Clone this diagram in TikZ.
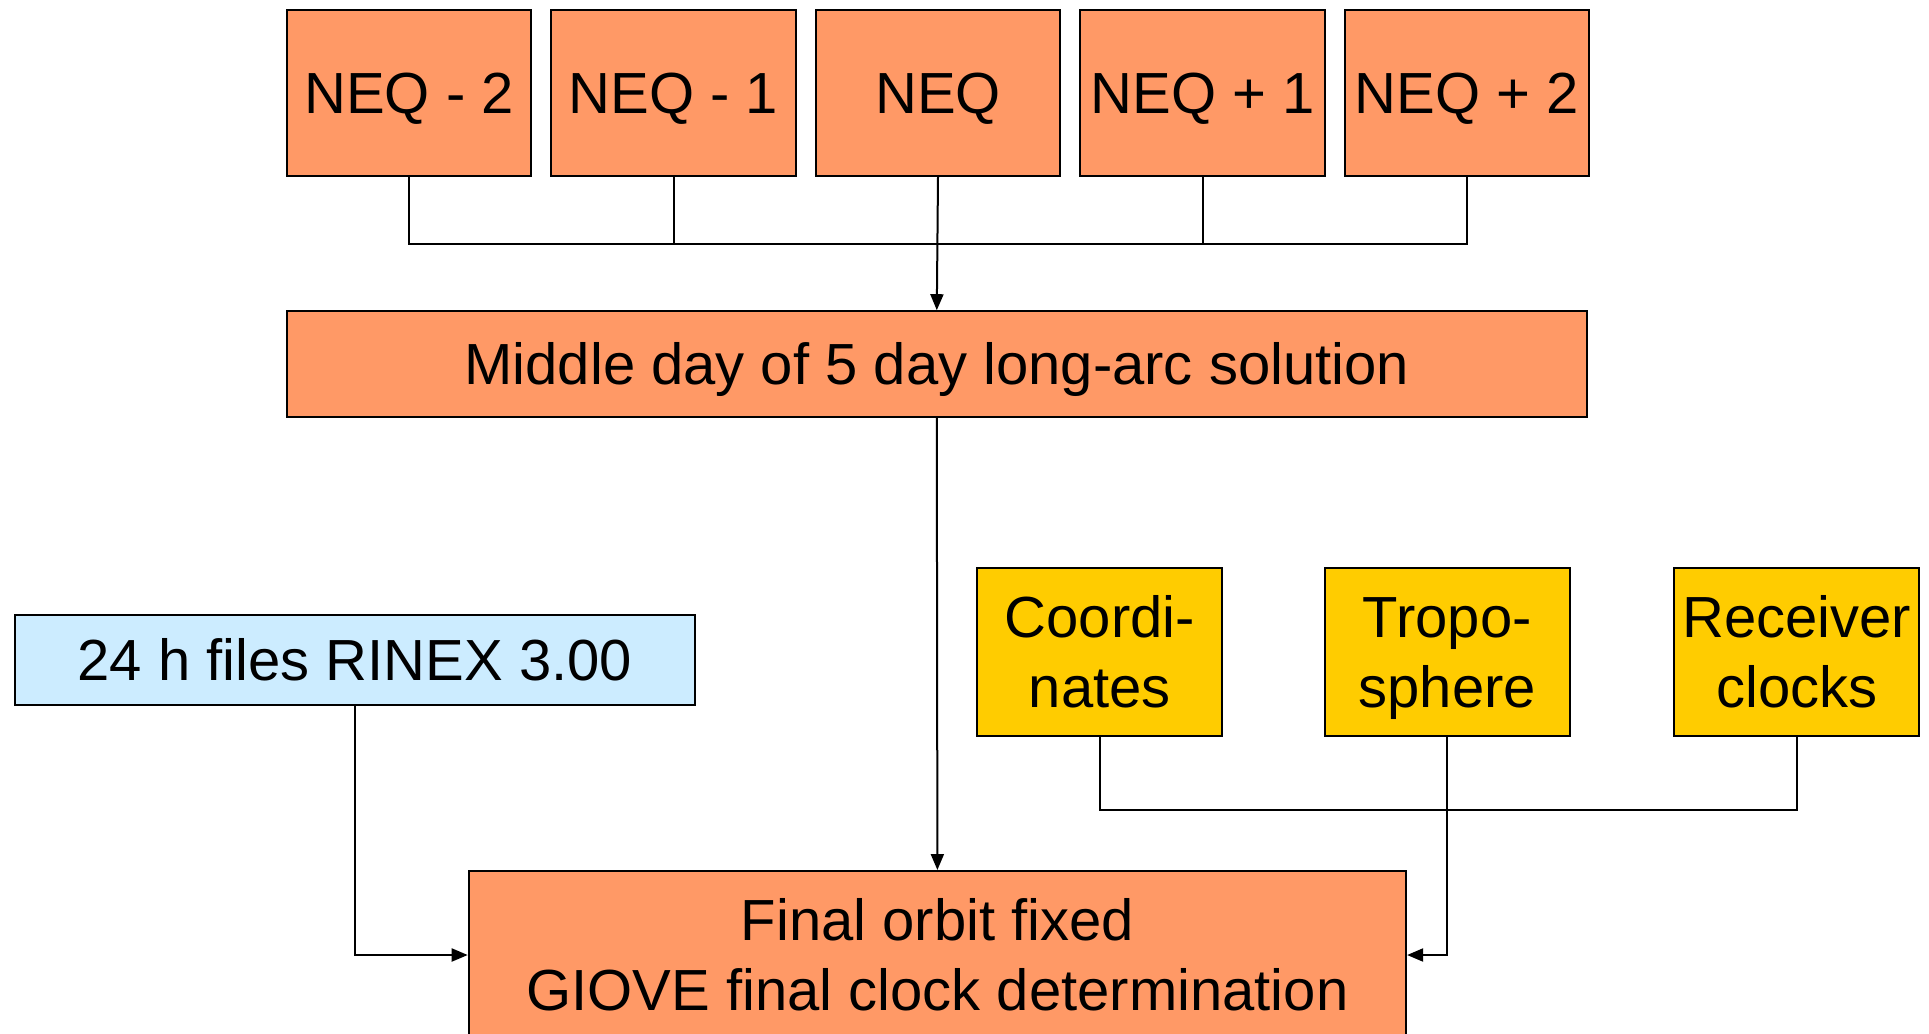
\documentclass[tikz,border=0pt]{standalone}
\usepackage{fontspec}
\setmainfont{Liberation Sans}
\usetikzlibrary{arrows.meta}
\definecolor{boxorange}{RGB}{255,153,102}
\definecolor{boxblue}{RGB}{204,236,255}
\definecolor{boxyellow}{RGB}{255,204,0}
\begin{document}
\begin{tikzpicture}[x=0.5pt,y=-0.5pt,
  base/.style={draw=black,line width=1pt,inner sep=0pt,align=center,
    font=\fontsize{29pt}{35pt}\selectfont},
  oneline/.style={text height=20.8pt,text depth=0pt},
  twoline/.style={text height=55.8pt,text depth=0pt},
  neqbox/.style={base,oneline,fill=boxorange,minimum width=122.4pt,minimum height=83pt},
  obox/.style={base,fill=boxorange},
  ybox/.style={base,twoline,fill=boxyellow,minimum width=122.4pt,minimum height=83.6pt},
  bbox/.style={base,fill=boxblue},
  conn/.style={line width=1pt},
  arr/.style={conn,-{Triangle[length=8pt,width=6.5pt]}}]
\useasboundingbox (0,0) rectangle (1929,1034);
\clip (0,0) rectangle (1929,1034);
% NEQ row
\node[neqbox] (nm2) at (409.0,92.9) {NEQ - 2};
\node[neqbox] (nm1) at (673.5,92.9) {NEQ - 1};
\node[neqbox] (n0)  at (938.0,92.9) {NEQ};
\node[neqbox] (np1) at (1202.5,92.9) {NEQ + 1};
\node[neqbox] (np2) at (1467.0,92.9) {NEQ + 2};
% middle
\node[obox,oneline,minimum width=650.2pt,minimum height=52.9pt] (mid) at (936.8,364.1) {Middle day of 5 day long-arc solution};
% final
\node[obox,minimum width=468.7pt,minimum height=84pt] (final) at (937.4,955) {Final orbit fixed\\GIOVE final clock determination};
% RINEX
\node[bbox,minimum width=340.2pt,minimum height=44.9pt] (rinex) at (354.9,660) {24 h files RINEX 3.00};
% yellow
\node[ybox] (coord) at (1099.8,652) {Coordi-\\nates};
\node[ybox] (tropo) at (1447.3,652) {Tropo-\\sphere};
\node[ybox] (recv)  at (1796.7,652) {Receiver\\clocks};
% bus coordinates
\coordinate (bus) at (0,243.6);
\coordinate (ybus) at (0,809.5);
% NEQ connectors
\draw[conn] (nm2.south) |- (np2.south |- bus) -- (np2.south);
\draw[conn] (nm1.south) -- (nm1.south |- bus);
\draw[conn] (np1.south) -- (np1.south |- bus);
\draw[arr] (n0.south) -- (mid.north);
\draw[arr] (mid.south) -- (final.north);
% RINEX
\draw[arr] (rinex.south) |- (final.west);
% yellow connectors
\draw[conn] (coord.south) |- (recv.south |- ybus) -- (recv.south);
\draw[arr] (tropo.south) |- (final.east);
\end{tikzpicture}
\end{document}
